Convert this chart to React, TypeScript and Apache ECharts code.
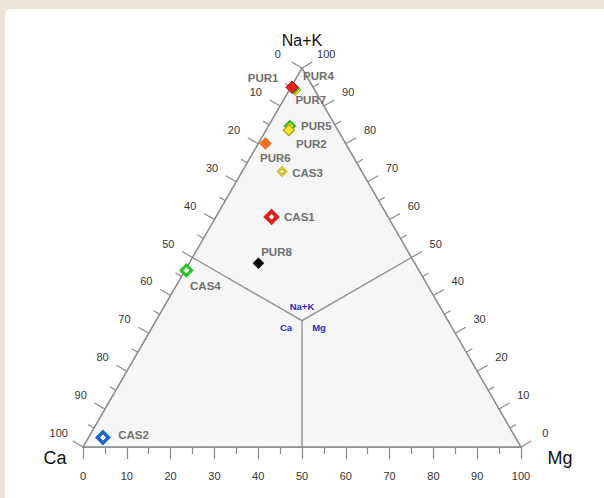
import React, { useEffect, useRef } from "react";
import * as echarts from "echarts";

// Cation composition of the samples (percent of Ca, Mg and Na+K)
const sampleNames = ["CAS2", "CAS4", "PUR8", "CAS1", "CAS3", "PUR6", "PUR5", "PUR2", "PUR7", "PUR4", "PUR1"];
const caPercent = [94.2, 53.1, 35.7, 26.6, 18.2, 18.3, 10.4, 11.2, 4.4, 4.5, 4.8];
const mgPercent = [3.3, 0.3, 15.8, 12.7, 9.1, 1.6, 4.9, 5.2, 1.4, 0.9, 0.3];
const naKPercent = [2.5, 46.6, 48.5, 60.7, 72.7, 80.1, 84.7, 83.6, 94.2, 94.6, 94.9];

// Axis scale of every side of the triangle
const tickValues = [0, 10, 20, 30, 40, 50, 60, 70, 80, 90, 100];
const minorTickValues = [5, 15, 25, 35, 45, 55, 65, 75, 85, 95];

const H = Math.sqrt(3) / 2;
const FONT = "Liberation Sans, Arial, Helvetica, sans-serif";

type MarkerStyle = {
  size: number;
  fill: string;
  stroke: string;
  lw: number;
  pos: string;
  offset: [number, number];
};

const markerStyles: Record<string, MarkerStyle> = {
  CAS2: { size: 11, fill: "#ffffff", stroke: "#1e66c4", lw: 3.5, pos: "right", offset: [3, -3] },
  CAS4: { size: 10.5, fill: "#ffffff", stroke: "#24c824", lw: 3, pos: "bottom", offset: [19, -2] },
  PUR8: { size: 11, fill: "#000000", stroke: "#000000", lw: 0.5, pos: "right", offset: [-8, -11] },
  CAS1: { size: 11, fill: "#ffffff", stroke: "#d8221c", lw: 4, pos: "right", offset: [0, 0] },
  CAS3: { size: 7.5, fill: "#ffffff", stroke: "#cfc22c", lw: 2.8, pos: "right", offset: [0, 1.5] },
  PUR6: { size: 12, fill: "#f2701e", stroke: "#e0601a", lw: 0.5, pos: "bottom", offset: [10, -2.5] },
  PUR5: { size: 10, fill: "#e8e430", stroke: "#2cb82c", lw: 2, pos: "right", offset: [0, 0] },
  PUR2: { size: 11, fill: "#f4ea2a", stroke: "#a8a020", lw: 1.2, pos: "right", offset: [-4, 14] },
  PUR7: { size: 11, fill: "#e8e020", stroke: "#b0b020", lw: 1, pos: "right", offset: [-11, 10] },
  PUR4: { size: 11, fill: "#6cc040", stroke: "#3c9c30", lw: 1, pos: "right", offset: [-2, -12] },
  PUR1: { size: 12.5, fill: "#e3201b", stroke: "#a01010", lw: 1, pos: "left", offset: [-2, -9] },
};

// Ternary (Ca, Mg, Na+K) to plane coordinates; Ca corner at (0,0), Mg corner at (100,0)
function toPlane(ca: number, mg: number, nak: number): [number, number] {
  const s = ca + mg + nak;
  const m = (mg / s) * 100;
  const n = (nak / s) * 100;
  return [m + n / 2, n * H];
}

const renderFrame = (_params: any, api: any) => {
  const pt = (mg: number, nak: number): number[] => api.coord([mg + nak / 2, nak * H]);
  const caCorner = pt(0, 0);
  const mgCorner = pt(100, 0);
  const apex = pt(0, 100);
  const centre = pt(100 / 3, 100 / 3);
  const grey = "#8a8a8a";
  const children: any[] = [];

  children.push({
    type: "polygon",
    shape: { points: [caCorner, mgCorner, apex] },
    style: { fill: "#f6f6f6", stroke: grey, lineWidth: 1.5 },
  });

  // Dividers from the centre to the middle of each side
  [pt(0, 50), pt(50, 50), pt(50, 0)].forEach((m) => {
    children.push({
      type: "line",
      shape: { x1: centre[0], y1: centre[1], x2: m[0], y2: m[1] },
      style: { stroke: grey, lineWidth: 1.3 },
    });
  });

  const nl = [-H, -0.5];
  const nr = [H, -0.5];
  const addTick = (p: number[], n: number[], len: number) => {
    children.push({
      type: "line",
      shape: { x1: p[0], y1: p[1], x2: p[0] + n[0] * len, y2: p[1] + n[1] * len },
      style: { stroke: grey, lineWidth: 1.2 },
    });
  };
  const addLabel = (p: number[], n: number[], text: string) => {
    children.push({
      type: "text",
      x: p[0] + n[0] * 28,
      y: p[1] + n[1] * 28,
      style: {
        text,
        fill: "#333333",
        fontSize: 11,
        fontFamily: FONT,
        align: "center",
        verticalAlign: "middle",
      },
    });
  };

  // Left side: Ca, 0 at the top to 100 at the Ca corner
  tickValues.forEach((v) => {
    const p = pt(0, 100 - v);
    addTick(p, nl, 12);
    addLabel(p, nl, String(v));
  });
  minorTickValues.forEach((v) => addTick(pt(0, 100 - v), nl, 7));

  // Right side: Na+K, 0 at the Mg corner to 100 at the top
  tickValues.forEach((v) => {
    const p = pt(100 - v, v);
    addTick(p, nr, 12);
    addLabel(p, nr, String(v));
  });
  minorTickValues.forEach((v) => addTick(pt(100 - v, v), nr, 7));

  const cornerText = (x: number, y: number, text: string, size: number) => ({
    type: "text",
    x,
    y,
    style: { text, fill: "#111111", fontSize: size, fontFamily: FONT, align: "center", verticalAlign: "middle" },
  });
  children.push(cornerText(apex[0], apex[1] - 28, "Na+K", 16));
  children.push(cornerText(caCorner[0] - 28, caCorner[1] + 11, "Ca", 18));
  children.push(cornerText(mgCorner[0] + 39, mgCorner[1] + 11, "Mg", 18));

  const centreText = (dx: number, dy: number, text: string) => ({
    type: "text",
    x: centre[0] + dx,
    y: centre[1] + dy,
    style: {
      text,
      fill: "#2a2ad2",
      fontSize: 9.5,
      fontWeight: "bold",
      fontFamily: FONT,
      align: "center",
      verticalAlign: "middle",
    },
  });
  children.push(centreText(0, -14.5, "Na+K"));
  children.push(centreText(-16, 6.5, "Ca"));
  children.push(centreText(17, 6.5, "Mg"));

  return { type: "group", children };
};

export default function App() {
  const ref = useRef<HTMLDivElement>(null);

  useEffect(() => {
    if (!ref.current) return;
    const chart = echarts.init(ref.current, undefined, { renderer: "svg" });

    const points = sampleNames.map((name, i) => {
      const s = markerStyles[name];
      return {
        name,
        value: toPlane(caPercent[i], mgPercent[i], naKPercent[i]),
        symbolSize: s.size,
        itemStyle: { color: s.fill, borderColor: s.stroke, borderWidth: s.lw, opacity: 1 },
        label: { position: s.pos, offset: s.offset },
      };
    });

    chart.setOption({
      animation: false,
      backgroundColor: "#ece5d9",
      graphic: [
        {
          type: "rect",
          z: -10,
          shape: { x: 5, y: 9, width: 620, height: 520, r: 6 },
          style: { fill: "#ffffff" },
        },
      ],
      grid: { left: 83, right: 83, top: 68, bottom: 51 },
      xAxis: {
        type: "value",
        min: 0,
        max: 100,
        interval: 10,
        splitLine: { show: false },
        axisLine: { show: true, lineStyle: { color: "#8a8a8a", width: 1.5 } },
        axisTick: { show: true, length: 12, lineStyle: { color: "#8a8a8a", width: 1.2 } },
        minorTick: { show: true, splitNumber: 2, length: 7, lineStyle: { color: "#8a8a8a", width: 1.2 } },
        axisLabel: {
          show: true,
          margin: 23,
          fontSize: 11,
          color: "#333333",
          fontFamily: FONT,
          showMinLabel: true,
          showMaxLabel: true,
        },
      },
      yAxis: {
        type: "value",
        min: 0,
        max: 100 * H,
        show: false,
        splitLine: { show: false },
      },
      series: [
        {
          type: "custom",
          coordinateSystem: "cartesian2d",
          silent: true,
          z: 1,
          data: [[50, 40]],
          renderItem: renderFrame,
        },
        {
          type: "scatter",
          symbol: "diamond",
          z: 5,
          data: points,
          itemStyle: { opacity: 1 },
          label: {
            show: true,
            formatter: "{b}",
            distance: 5,
            fontSize: 11.5,
            fontWeight: "bold",
            color: "#707070",
            fontFamily: FONT,
          },
        },
      ],
    });

    return () => chart.dispose();
  }, []);

  return (
    <div
      ref={ref}
      style={{ position: "fixed", left: 0, top: 0, width: 604, height: 498 }}
    />
  );
}
